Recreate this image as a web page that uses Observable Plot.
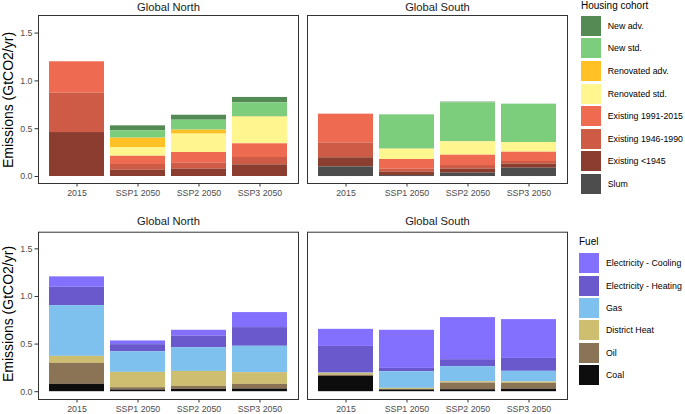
<!DOCTYPE html>
<html><head><meta charset="utf-8">
<script src="https://cdn.jsdelivr.net/npm/d3@7"></script>
<script src="https://cdn.jsdelivr.net/npm/@observablehq/plot@0.6"></script>
<style>
body{margin:0;background:#fff;font-family:"Liberation Sans",Arial,sans-serif;}
#root{position:relative;width:685px;height:414px;overflow:hidden;background:#fff}
.abs{position:absolute}
.ytitle{position:absolute;width:220px;text-align:center;font-size:14px;line-height:16px;color:#000;transform:rotate(-90deg);white-space:nowrap}
.ltitle{position:absolute;font-size:10px;line-height:12px;color:#000;white-space:nowrap}
.sw{position:absolute;width:20px;height:20px}
.lab{position:absolute;font-size:8.8px;color:#000;white-space:nowrap;line-height:10px}
</style></head><body><div id="root"></div>
<script>
// ---- data ----
const regions = ["Global North", "Global South"];
const scenarios = ["2015", "SSP1 2050", "SSP2 2050", "SSP3 2050"];

// Housing cohort (legend order, top to bottom)
const cohorts = ["New adv.", "New std.", "Renovated adv.", "Renovated std.", "Existing 1991-2015", "Existing 1946-1990", "Existing <1945", "Slum"];
const cohortColors = ["#548B54", "#7CCD7C", "#FFC125", "#FFF68F", "#EE6A50", "#CD5B45", "#8B3E2F", "#4D4D4D"];
// values: North 2015, SSP1, SSP2, SSP3, South 2015, SSP1, SSP2, SSP3
const newAdv      = [0, 0.052, 0.052, 0.056, 0, 0, 0.007, 0];
const newStd      = [0, 0.077, 0.104, 0.148, 0, 0.359, 0.408, 0.401];
const renAdv      = [0, 0.098, 0.042, 0.003, 0, 0, 0, 0];
const renStd      = [0, 0.091, 0.192, 0.278, 0, 0.108, 0.140, 0.102];
const ex1991      = [0.328, 0.086, 0.112, 0.143, 0.300, 0.101, 0.108, 0.097];
const ex1946      = [0.412, 0.060, 0.062, 0.077, 0.156, 0.032, 0.038, 0.028];
const ex1945      = [0.460, 0.066, 0.077, 0.122, 0.095, 0.035, 0.042, 0.042];
const slum        = [0, 0, 0, 0, 0.101, 0.010, 0.035, 0.087];
const cohortValues = [newAdv, newStd, renAdv, renStd, ex1991, ex1946, ex1945, slum];

// Fuel (legend order, top to bottom)
const fuels = ["Electricity - Cooling", "Electricity - Heating", "Gas", "District Heat", "Oil", "Coal"];
const fuelColors = ["#8470FF", "#6959CD", "#7EC0EE", "#CDBE70", "#8B7355", "#0D0D0D"];
const elecCool = [0.109, 0.039, 0.063, 0.158, 0.179, 0.400, 0.442, 0.407];
const elecHeat = [0.193, 0.074, 0.119, 0.196, 0.280, 0.035, 0.073, 0.136];
const gas      = [0.533, 0.217, 0.250, 0.277, 0.003, 0.175, 0.158, 0.112];
const distHeat = [0.073, 0.161, 0.157, 0.123, 0.020, 0.012, 0.014, 0.014];
const oil      = [0.221, 0.024, 0.031, 0.049, 0.012, 0.005, 0.070, 0.063];
const coal     = [0.077, 0.018, 0.025, 0.028, 0.161, 0.018, 0.021, 0.025];
const fuelValues = [elecCool, elecHeat, gas, distHeat, oil, coal];

const yTicks = [0, 0.5, 1.0, 1.5];

function tidy(cats, values) {
  const out = [];
  cats.forEach((c, ci) => {
    values[ci].forEach((v, i) => {
      if (v > 0) out.push({region: regions[Math.floor(i / 4)], scenario: scenarios[i % 4], cat: c, value: v});
    });
  });
  return out;
}

function row(cats, colors, values, o) {
  const data = tidy(cats, values);
  return Plot.plot({
    width: 570, height: o.height,
    marginLeft: 37, marginRight: 3, marginTop: o.mt, marginBottom: o.mb,
    style: {fontFamily: "'Liberation Sans', Arial, sans-serif", fontSize: "8.8px", background: "transparent", overflow: "visible"},
    fx: {domain: regions, paddingInner: 0.035, paddingOuter: 0, label: null},
    x: {domain: scenarios, paddingInner: 0.1, paddingOuter: 0.15, label: null},
    y: {domain: o.ydom, label: null},
    color: {domain: cats, range: colors},
    marks: [
      Plot.barY(data, Plot.stackY({order: cats.slice().reverse()}, {fx: "region", x: "scenario", y: "value", z: "cat", fill: "cat"})),
      Plot.frame({stroke: "#333333", strokeWidth: 1}),
      Plot.axisY({ticks: yTicks, tickFormat: d3.format(".1f"), tickSize: 3.5, tickPadding: 2.5, label: null, stroke: "#333333", fill: "#4D4D4D"}),
      Plot.axisX({tickSize: 3.5, tickPadding: 2.5, label: null, stroke: "#333333", fill: "#4D4D4D"}),
      Plot.axisFx({anchor: "top", tickSize: 0, tickPadding: o.tp, label: null, fontSize: 11.2, fill: "#1A1A1A"})
    ]
  });
}

const root = document.getElementById("root");

function place(el, x, y) {
  const wrap = document.createElement("div");
  wrap.className = "abs";
  wrap.style.left = x + "px";
  wrap.style.top = y + "px";
  wrap.appendChild(el);
  root.appendChild(wrap);
}

place(row(cohorts, cohortColors, cohortValues, {height: 205, mt: 15, mb: 22, tp: 5, ydom: [-0.073, 1.684]}), 0, 0);
place(row(fuels, fuelColors, fuelValues, {height: 209, mt: 26.7, mb: 15, tp: 7.5, ydom: [-0.082, 1.675]}), 0, 205);

function ytitle(cy) {
  const d = document.createElement("div");
  d.className = "ytitle";
  d.textContent = "Emissions (GtCO2/yr)";
  d.style.left = (8 - 110) + "px";
  d.style.top = (cy - 8) + "px";
  root.appendChild(d);
}
ytitle(100);
ytitle(314);

function legend(title, cats, colors, x, titleY, swY, step, labX) {
  const t = document.createElement("div");
  t.className = "ltitle";
  t.textContent = title;
  t.style.left = x + "px";
  t.style.top = (titleY - 6) + "px";
  root.appendChild(t);
  cats.forEach((c, i) => {
    const s = document.createElement("div");
    s.className = "sw";
    s.style.left = x + "px";
    s.style.top = (swY + i * step) + "px";
    s.style.background = colors[i];
    root.appendChild(s);
    const l = document.createElement("div");
    l.className = "lab";
    l.textContent = c;
    l.style.left = labX + "px";
    l.style.top = (swY + i * step + 5) + "px";
    root.appendChild(l);
  });
}
legend("Housing cohort", cohorts, cohortColors, 581, 6, 15.7, 22.6, 607.7);
legend("Fuel", fuels, fuelColors, 579, 242.3, 253.3, 22.33, 606);
</script>
</body></html>
